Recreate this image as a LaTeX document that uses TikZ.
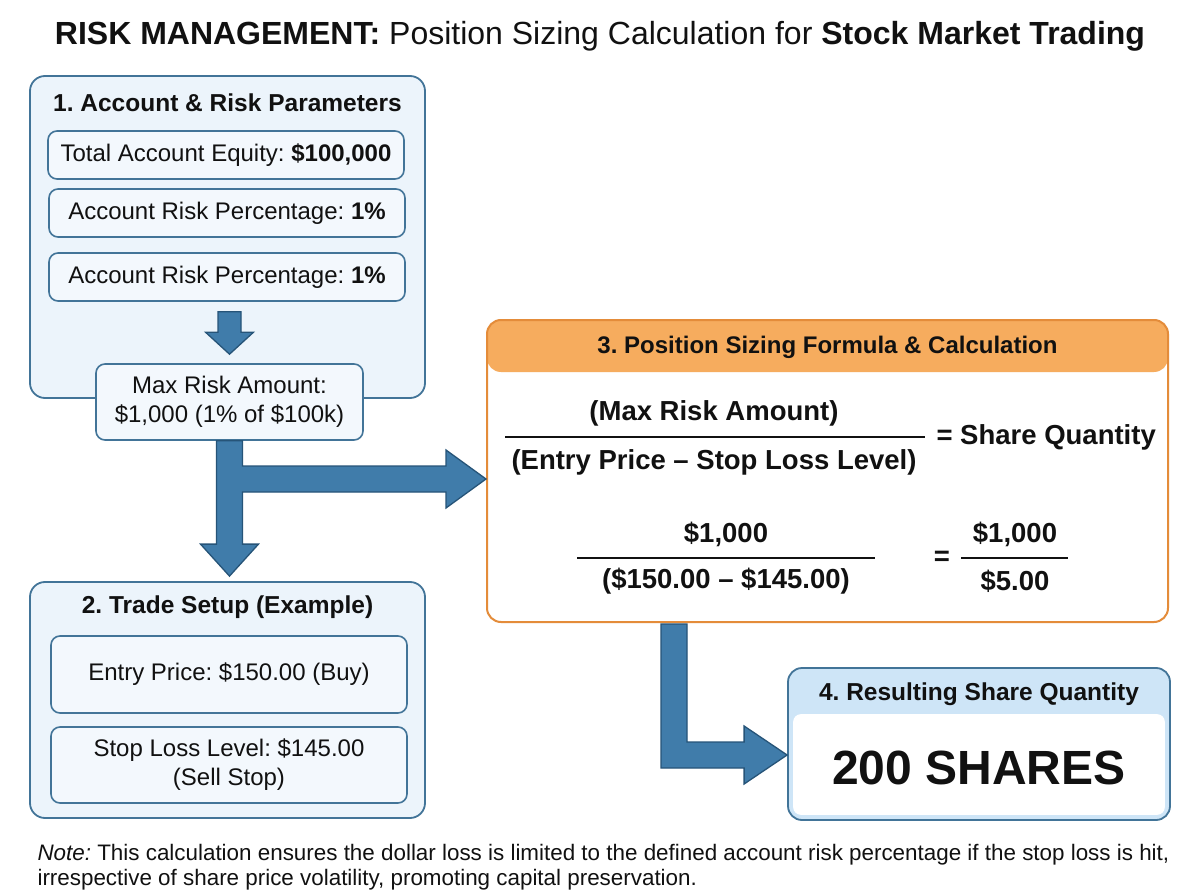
\documentclass[tikz,border=0pt]{standalone}
\usepackage{fontspec}
\setmainfont{Liberation Sans}
\usetikzlibrary{positioning, calc, arrows.meta}
\frenchspacing

\definecolor{paneblue}{RGB}{236,244,251}
\definecolor{subblue}{RGB}{243,248,253}
\definecolor{edgeblue}{RGB}{66,116,152}
\definecolor{arrowfill}{RGB}{64,124,170}
\definecolor{arrowedge}{RGB}{38,84,120}
\definecolor{hdrorange}{RGB}{246,172,94}
\definecolor{edgeorange}{RGB}{228,140,58}
\definecolor{hdrblue}{RGB}{206,229,247}
\definecolor{inkblack}{RGB}{17,17,17}

\begin{document}
\begin{tikzpicture}[
    x=1pt, y=-1pt,
    every node/.style={text=inkblack},
    panel/.style={draw=edgeblue, fill=paneblue, line width=1.8pt, rounded corners=15pt, inner sep=0pt},
    subbox/.style={draw=edgeblue, fill=subblue, line width=1.6pt, rounded corners=9pt, inner sep=0pt,
        minimum width=356pt, align=center, font=\fontsize{24}{29}\selectfont},
    heading/.style={font=\bfseries\fontsize{24.5}{29}\selectfont},
    mathtext/.style={font=\bfseries\fontsize{27.5}{32}\selectfont},
    fracbar/.style={line width=1.8pt, draw=inkblack},
    blockarrow/.style={fill=arrowfill, draw=arrowedge, line width=1.3pt, line join=miter}
]
    \fill[white] (0,0) rectangle (1200,896);
    \useasboundingbox (0,0) rectangle (1200,896);

    % title
    \node (title) at (600,36) {\fontsize{32}{36}\selectfont\textbf{RISK MANAGEMENT:} Position Sizing Calculation for \textbf{Stock Market Trading}};

    % 1. account and risk parameters
    \node[panel, minimum width=395pt, minimum height=322pt] (acct) at (227.5,237) {};
    \node[heading] (accttitle) at (227.5,103) {1. Account \& Risk Parameters};
    \node[subbox, minimum height=48pt] (equity) at (226,155) {Total Account Equity: \textbf{\$100,000}};
    \node[subbox, minimum height=48pt] (riskpct) at (227,213) {Account Risk Percentage: \textbf{1\%}};
    \node[subbox, minimum height=48pt] (riskpctb) at (227,277) {Account Risk Percentage: \textbf{1\%}};
    \node[subbox, minimum width=267pt, minimum height=76pt] (maxrisk) at (229.5,402) {Max Risk Amount:\\\$1,000 (1\% of \$100k)};

    \path[blockarrow] ($(riskpctb.south -| maxrisk.north)+(-11.5,10)$) -- ($(maxrisk.north)+(-11.5,-31)$)
        -- ($(maxrisk.north)+(-24,-31)$) -- ($(maxrisk.north)+(0,-9)$) -- ($(maxrisk.north)+(24,-31)$)
        -- ($(maxrisk.north)+(11.5,-31)$) -- ($(riskpctb.south -| maxrisk.north)+(11.5,10)$) -- cycle;

    % 2. trade setup
    \node[panel, minimum width=395pt, minimum height=236pt] (trade) at (227.5,700) {};
    \node[heading] (tradetitle) at (227.5,607) {2. Trade Setup (Example)};
    \node[subbox, minimum height=77pt] (entry) at (229,674.5) {Entry Price: \$150.00 (Buy)};
    \node[subbox, minimum height=76pt] (stop) at (229,765) {Stop Loss Level: \$145.00\\(Sell Stop)};

    % 3. formula
    \node[draw=edgeorange, fill=white, line width=2pt, rounded corners=14pt, inner sep=0pt,
        minimum width=681pt, minimum height=302pt,
        path picture={\fill[hdrorange] (path picture bounding box.north west) rectangle ([yshift=-52pt]path picture bounding box.north east);}]
        (formula) at (827.5,471) {};
    \node[font=\bfseries\fontsize{24}{29}\selectfont] (formulatitle) at (827.5,347) {3. Position Sizing Formula \& Calculation};

    \node[mathtext] (num) at (714,413) {(Max Risk Amount)};
    \node[mathtext] (den) at (714,462) {(Entry Price \textendash{} Stop Loss Level)};
    \draw[fracbar] (505,437) -- (925,437);
    \node[mathtext, anchor=west] (qty) at (933,437) {= Share Quantity};

    \node[mathtext] (numval) at (726,534) {\$1,000};
    \node[mathtext] (denval) at (726,581) {(\$150.00 \textendash{} \$145.00)};
    \draw[fracbar] (577,558) -- (875,558);
    \node[mathtext] (eqsign) at (942,558) {=};
    \node[mathtext] (numres) at (1015,534) {\$1,000};
    \node[mathtext] (denres) at (1015,581) {\$5.00};
    \draw[fracbar] (961,558) -- (1068,558);

    % 4. result
    \node[draw=edgeblue, fill=hdrblue, line width=1.8pt, rounded corners=14pt, inner sep=0pt,
        minimum width=382pt, minimum height=152pt] (result) at (979,744) {};
    \fill[white, rounded corners=8pt] ($(result.north west)+(6,47)$) rectangle ($(result.south east)+(-6,-6)$);
    \node[heading] (resulttitle) at (979,694) {4. Resulting Share Quantity};
    \node[font=\bfseries\fontsize{48}{52}\selectfont] (shares) at (979,768) {200 SHARES};

    % block arrows
    \coordinate (tip3) at ($(formula.west)+(0,8)$);
    \path[blockarrow] ($(maxrisk.south)+(-13,0)$) -- ($(maxrisk.south |- trade.north)+(-13,-37)$)
        -- ($(maxrisk.south |- trade.north)+(-29,-37)$) -- ($(maxrisk.south |- trade.north)+(0,-5)$)
        -- ($(maxrisk.south |- trade.north)+(29,-37)$) -- ($(maxrisk.south |- trade.north)+(13,-37)$)
        -- ($(maxrisk.south |- tip3)+(13,13)$) -- ($(tip3)+(-40,13)$) -- ($(tip3)+(-40,29)$)
        -- (tip3) -- ($(tip3)+(-40,-29)$) -- ($(tip3)+(-40,-13)$)
        -- ($(maxrisk.south |- tip3)+(13,-13)$) -- ($(maxrisk.south)+(13,0)$) -- cycle;

    \coordinate (elbow) at (674,755);
    \path[blockarrow] ($(elbow |- formula.south)+(-13,1)$) -- ($(elbow)+(-13,13)$)
        -- ($(elbow -| result.west)+(-43,13)$) -- ($(elbow -| result.west)+(-43,29)$)
        -- (elbow -| result.west) -- ($(elbow -| result.west)+(-43,-29)$)
        -- ($(elbow -| result.west)+(-43,-13)$) -- ($(elbow)+(13,-13)$)
        -- ($(elbow |- formula.south)+(13,1)$) -- cycle;

    % note
    \node[anchor=west, align=left, font=\fontsize{22.4}{25}\selectfont] (note) at (34,867)
        {\textit{Note:} This calculation ensures the dollar loss is limited to the defined account risk percentage if the stop loss is hit,\\
         irrespective of share price volatility, promoting capital preservation.};
\end{tikzpicture}
\end{document}
